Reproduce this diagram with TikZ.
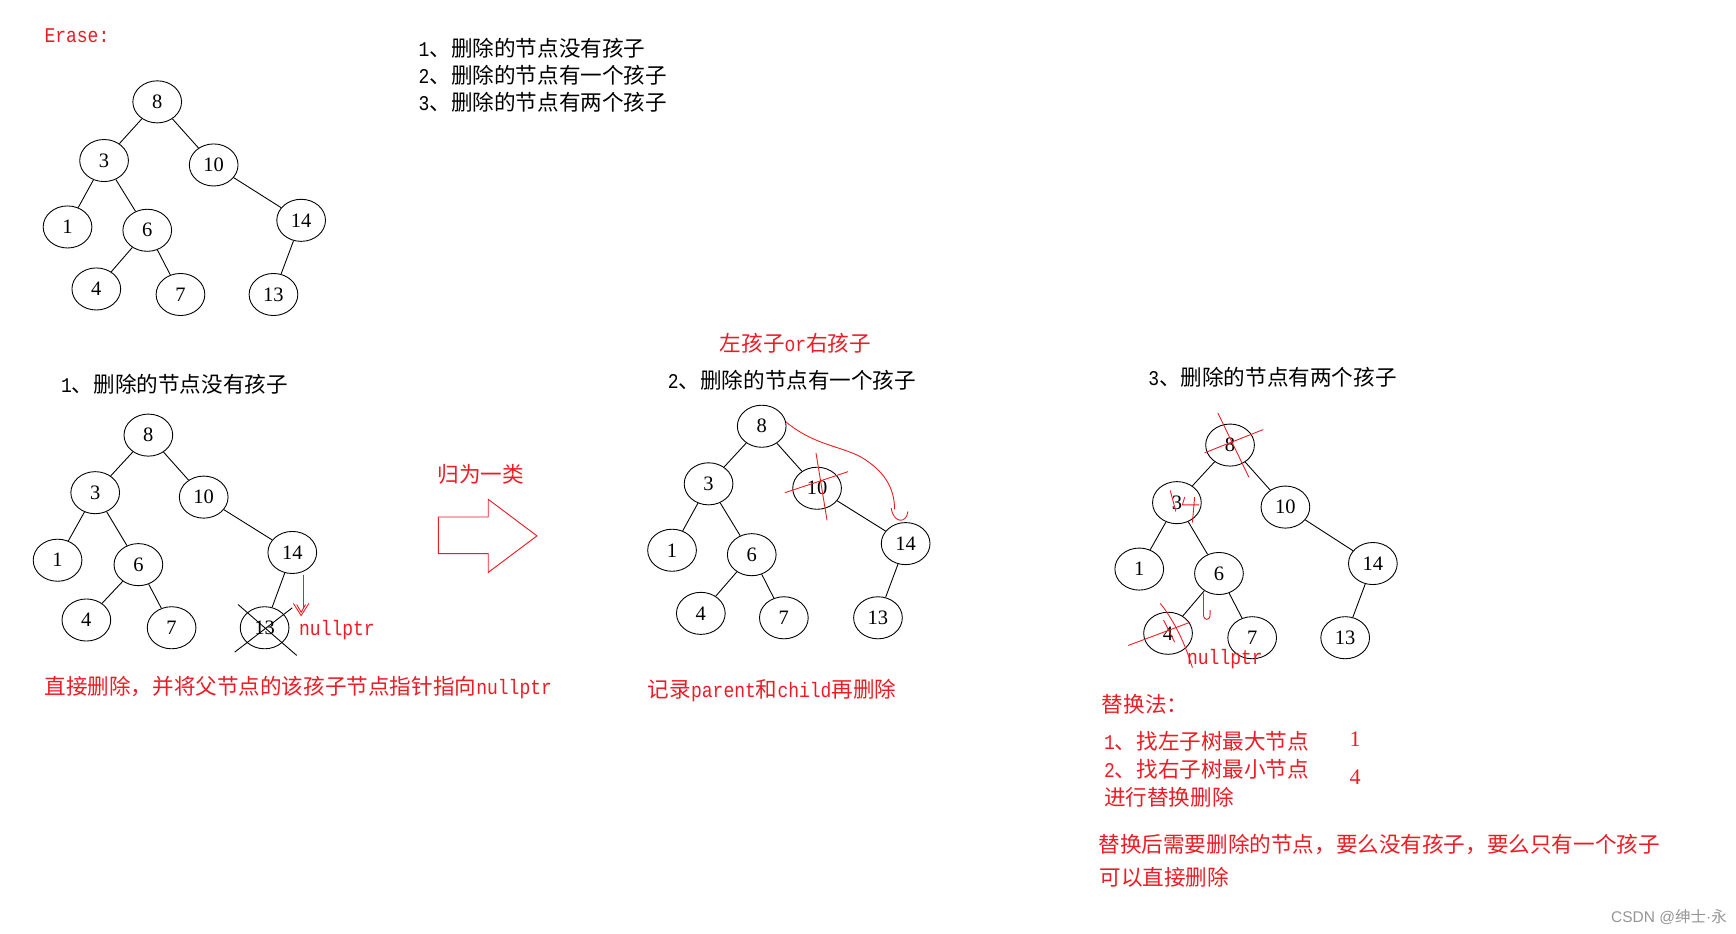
\documentclass[tikz,border=0pt]{standalone}
\usepackage{fontspec}
\setmainfont{Liberation Serif}
\newfontfamily\cjk{Noto Sans CJK SC}
\newfontfamily\mono[Scale=0.97,FakeStretch=0.86]{Liberation Mono}
\newfontfamily\wmsans{Liberation Sans}
\usetikzlibrary{shapes.geometric,arrows.meta}
\definecolor{ink}{RGB}{237,28,36}
\definecolor{wm}{RGB}{150,150,150}
\begin{document}
\begin{tikzpicture}[x=1pt,y=-1pt,
  tn/.style={draw, ellipse, minimum width=44pt, minimum height=38pt, inner sep=0pt, line width=0.8pt, font=\fontsize{18.5}{18.5}\selectfont},
  edge/.style={line width=0.8pt},
  txt/.style={anchor=west, inner sep=0pt, font=\cjk\fontsize{19.5}{22}\selectfont},
  rtxt/.style={txt, text=ink},
  redline/.style={draw=ink, line width=0.8pt},
  xline/.style={line width=0.8pt}]
\useasboundingbox (0,0) rectangle (1568,843);
\fill[white] (0,0) rectangle (1568,843);

% ---------- header ----------
\node[rtxt] (erase) at (40,32) {\mono Erase:};
\node[txt] (l1) at (378,44) {{\mono 1}、删除的节点没有孩子};
\node[txt] (l2) at (378,68) {{\mono 2}、删除的节点有一个孩子};
\node[txt] (l3) at (378,92) {{\mono 3}、删除的节点有两个孩子};

% ---------- tree A ----------
\node[tn] (a8) at (142,92) {8};
\node[tn] (a3) at (94,145) {3};
\node[tn] (a10) at (193,149) {10};
\node[tn] (a1) at (61,205) {1};
\node[tn] (a6) at (133,208) {6};
\node[tn] (a14) at (272,199) {14};
\node[tn] (a4) at (87,261) {4};
\node[tn] (a7) at (163,266) {7};
\node[tn] (a13) at (247,266) {13};
\draw[edge] (a8)--(a3) (a8)--(a10) (a3)--(a1) (a3)--(a6) (a6)--(a4) (a6)--(a7) (a10)--(a14) (a14)--(a13);

% ---------- section 1 ----------
\node[txt] (t1) at (55,347) {{\mono 1}、删除的节点没有孩子};
\node[tn] (b8) at (134,393) {8};
\node[tn] (b3) at (86,445) {3};
\node[tn] (b10) at (184,449) {10};
\node[tn] (b1) at (52,506) {1};
\node[tn] (b6) at (125,510) {6};
\node[tn] (b14) at (264,499) {14};
\node[tn] (b4) at (78,560) {4};
\node[tn] (b7) at (155,567) {7};
\node[tn] (b13) at (239,567) {13};
\draw[edge] (b8)--(b3) (b8)--(b10) (b3)--(b1) (b3)--(b6) (b6)--(b4) (b6)--(b7) (b10)--(b14) (b14)--(b13);
\coordinate (bx1) at (215,546); \coordinate (bx2) at (268,592);
\coordinate (bx3) at (212,589); \coordinate (bx4) at (264,549);
\draw[xline] (bx1)--(bx2) (bx3)--(bx4);
\coordinate (bars) at (274,519); \coordinate (bare) at (272,556);
\draw[redline] (bars)--(274,550);
\draw[redline] (265,545)--(bare)--(279,545);
\draw[redline] (268,546)--(272,553)--(276,546);
\node[rtxt] (null1) at (270,569) {\mono nullptr};
\node[rtxt] (d1) at (40,621) {直接删除，并将父节点的该孩子节点指针指向{\mono nullptr}};

% ---------- middle arrow ----------
\node[rtxt] (gl) at (395,428) {归为一类};
\draw[redline] (396,467)--(441,467)--(441,451)--(485,484)--(441,517)--(441,500)--(396,500)--cycle;

% ---------- section 2 ----------
\node[rtxt] (lr) at (650,310) {左孩子{\mono or}右孩子};
\node[txt] (t2) at (603,343) {{\mono 2}、删除的节点有一个孩子};
\node[tn] (c8) at (688,385) {8};
\node[tn] (c3) at (640,437) {3};
\node[tn] (c10) at (738,441) {10};
\node[tn] (c1) at (607,497) {1};
\node[tn] (c6) at (679,501) {6};
\node[tn] (c14) at (818,491) {14};
\node[tn] (c4) at (633,554) {4};
\node[tn] (c7) at (708,558) {7};
\node[tn] (c13) at (793,558) {13};
\draw[edge] (c8)--(c3) (c8)--(c10) (c3)--(c1) (c3)--(c6) (c6)--(c4) (c6)--(c7) (c10)--(c14) (c14)--(c13);
\draw[redline] (709,445)--(766,426) (737,409)--(747,470);
\draw[redline] (c8.10) .. controls (735,402) and (760,403) .. (778,413) .. controls (798,425) and (808,440) .. (808,460);
\draw[redline] (805,459) .. controls (807,473) and (819,473) .. (820,462);
\node[rtxt] (d2) at (585,624) {记录{\mono parent}和{\mono child}再删除};

% ---------- section 3 ----------
\node[txt] (t3) at (1037,341) {{\mono 3}、删除的节点有两个孩子};
\node[tn] (e8) at (1111,402) {8};
\node[tn] (e3) at (1063,454) {3};
\node[tn] (e10) at (1161,458) {10};
\node[tn] (e1) at (1029,514) {1};
\node[tn] (e6) at (1101,518) {6};
\node[tn] (e14) at (1240,509) {14};
\node[tn] (e4) at (1055,572) {4};
\node[tn] (e7) at (1131,576) {7};
\node[tn] (e13) at (1215,576) {13};
\draw[edge] (e8)--(e3) (e8)--(e10) (e3)--(e1) (e3)--(e6) (e6)--(e4) (e6)--(e7) (e10)--(e14) (e14)--(e13);
% red marks
\draw[redline] (1088,409)--(1141,388) (1100,373)--(1128,431);
\draw[redline] (1057,443)--(1062,462);
\draw[redline] (1070,449)--(1068,456)--(1083,456) (1079,449)--(1077,472);
\draw[redline] (1087,536)--(1087,555) .. controls (1087,561) and (1093,561) .. (1093,555)--(1093,551);
\draw[redline] (1019,583)--(1075,562);
\draw[redline] (1048,545) .. controls (1060,560) and (1070,580) .. (1077,603);
\draw[redline] (1051,560)--(1061,580);
\node[rtxt] (null3) at (1072,595) {\mono nullptr};

\node[rtxt] (th) at (995,636) {替换法：};
\node[rtxt] (s1) at (997,670) {{\mono 1}、找左子树最大节点};
\node[rtxt] (s2) at (997,695) {{\mono 2}、找右子树最小节点};
\node[rtxt] (s3) at (997,720) {进行替换删除};
\node[text=ink, inner sep=0pt, font=\fontsize{20}{20}\selectfont] (n1) at (1224,668) {1};
\node[text=ink, inner sep=0pt, font=\fontsize{20}{20}\selectfont] (n4) at (1224,702) {4};
\node[rtxt] (s4) at (992,763) {替换后需要删除的节点，要么没有孩子，要么只有一个孩子};
\node[rtxt] (s5) at (993,792) {可以直接删除};

\node[anchor=west, inner sep=0pt, text=wm, font=\cjk\fontsize{14}{16}\selectfont] (wmk) at (1455,828) {{\wmsans CSDN @}绅士{\wmsans ·}永};
\end{tikzpicture}
\end{document}
